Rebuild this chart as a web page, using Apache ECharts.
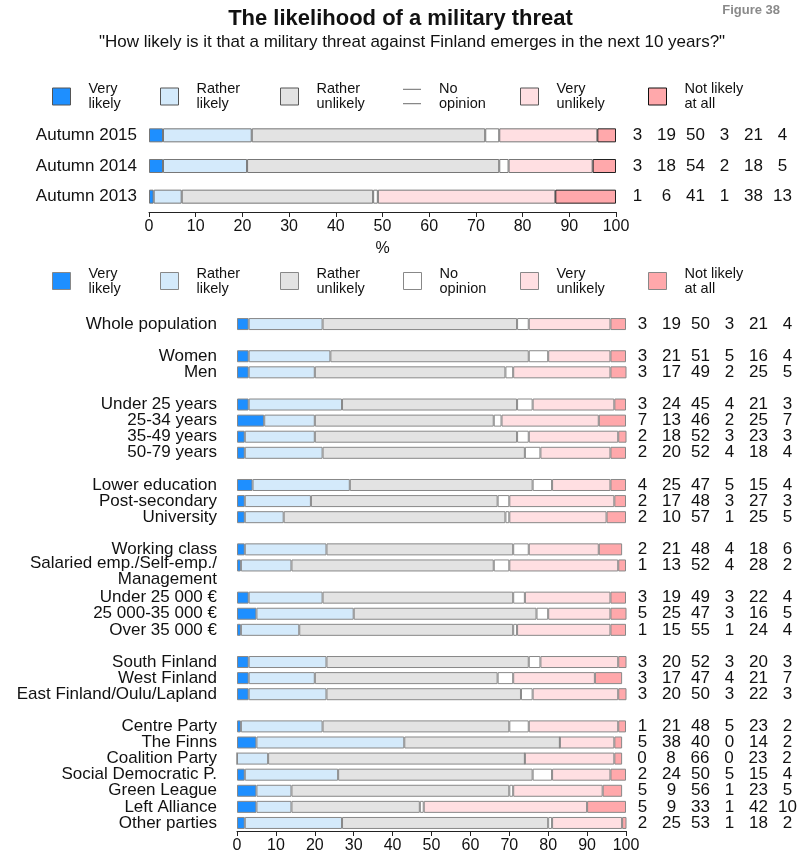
<!DOCTYPE html>
<html>
<head>
<meta charset="utf-8">
<script src="https://cdn.jsdelivr.net/npm/echarts@6/dist/echarts.min.js"></script>
<style>html,body{margin:0;padding:0;background:#fff;}#chart{width:801px;height:854px;}</style>
</head>
<body>
<div id="chart"></div>
<script>
// ---------- DATA ----------
const seriesNames = ['Very likely', 'Rather likely', 'Rather unlikely', 'No opinion', 'Very unlikely', 'Not likely at all'];
const legendLabels = ['Very\nlikely', 'Rather\nlikely', 'Rather\nunlikely', 'No\nopinion', 'Very\nunlikely', 'Not likely\nat all'];
const xTicks = [0, 10, 20, 30, 40, 50, 60, 70, 80, 90, 100];

const topCategories = ['Autumn 2015', 'Autumn 2014', 'Autumn 2013'];
const topVeryLikely      = [3, 3, 1];
const topRatherLikely    = [19, 18, 6];
const topRatherUnlikely  = [50, 54, 41];
const topNoOpinion       = [3, 2, 1];
const topVeryUnlikely    = [21, 18, 38];
const topNotLikely       = [4, 5, 13];

const bottomCategories = [
  'Whole population',
  'Women', 'Men',
  'Under 25 years', '25-34 years', '35-49 years', '50-79 years',
  'Lower education', 'Post-secondary', 'University',
  'Working class', 'Salaried emp./Self-emp./\nManagement',
  'Under 25 000 €', '25 000-35 000 €', 'Over 35 000 €',
  'South Finland', 'West Finland', 'East Finland/Oulu/Lapland',
  'Centre Party', 'The Finns', 'Coalition Party', 'Social Democratic P.', 'Green League', 'Left Alliance', 'Other parties'
];
const groupSizes = [1, 2, 4, 3, 2, 3, 3, 7];
const veryLikely     = [3, 3, 3, 3, 7, 2, 2, 4, 2, 2, 2, 1, 3, 5, 1, 3, 3, 3, 1, 5, 0, 2, 5, 5, 2];
const ratherLikely   = [19, 21, 17, 24, 13, 18, 20, 25, 17, 10, 21, 13, 19, 25, 15, 20, 17, 20, 21, 38, 8, 24, 9, 9, 25];
const ratherUnlikely = [50, 51, 49, 45, 46, 52, 52, 47, 48, 57, 48, 52, 49, 47, 55, 52, 47, 50, 48, 40, 66, 50, 56, 33, 53];
const noOpinion      = [3, 5, 2, 4, 2, 3, 4, 5, 3, 1, 4, 4, 3, 3, 1, 3, 4, 3, 5, 0, 0, 5, 1, 1, 1];
const veryUnlikely   = [21, 16, 25, 21, 25, 23, 18, 15, 27, 25, 18, 28, 22, 16, 24, 20, 21, 22, 23, 14, 23, 15, 23, 42, 18];
const notLikely      = [4, 4, 5, 3, 7, 3, 4, 4, 3, 5, 6, 2, 4, 5, 4, 3, 7, 3, 2, 2, 2, 4, 5, 10, 2];

// ---------- BUILD ----------
const FONT = '"Liberation Sans", Arial, Helvetica, sans-serif';
const colors = ['#1E8FFF', '#D4EAFB', '#E3E3E3', '#FFFFFF', '#FFDFE2', '#FFA8AB'];
const topValues = [topVeryLikely, topRatherLikely, topRatherUnlikely, topNoOpinion, topVeryUnlikely, topNotLikely];
const bottomValues = [veryLikely, ratherLikely, ratherUnlikely, noOpinion, veryUnlikely, notLikely];

// bottom axis with spacer rows between groups
const axisRows = [];
const rowSource = [];
let k = 0, spacer = 0;
groupSizes.forEach((n, g) => {
  for (let i = 0; i < n; i++) {
    axisRows.push(bottomCategories[k]);
    rowSource.push(k);
    k++;
  }
  if (g < groupSizes.length - 1) {
    spacer++;
    axisRows.push(' '.repeat(spacer));
    rowSource.push(-1);
  }
});

const richNums = { c: { width: 29, align: 'center', fontSize: 17, color: '#111', fontFamily: FONT } };

const series = [];
seriesNames.forEach((name, i) => {
  const s = {
    type: 'bar', name: name, stack: 'top', xAxisIndex: 0, yAxisIndex: 0,
    barWidth: 14, data: topValues[i].slice(),
    itemStyle: { color: colors[i], borderColor: i === 5 ? '#222' : '#777', borderWidth: 1 },
    emphasis: { disabled: true }, animation: false
  };
  if (i === 0) {
    s.label = {
      show: true, position: [474, '50%'], align: 'left', verticalAlign: 'middle',
      formatter: p => topValues.map(a => '{c|' + a[p.dataIndex] + '}').join(''),
      rich: richNums
    };
  }
  series.push(s);
});
seriesNames.forEach((name, i) => {
  const s = {
    type: 'bar', name: name, stack: 'bottom', xAxisIndex: 1, yAxisIndex: 1,
    barWidth: 12,
    data: rowSource.map(r => r < 0 ? '-' : bottomValues[i][r]),
    itemStyle: { color: colors[i], borderColor: '#888', borderWidth: 1 },
    emphasis: { disabled: true }, animation: false
  };
  if (i === 0) {
    s.label = {
      show: true, position: [391, '50%'], align: 'left', verticalAlign: 'middle',
      formatter: p => { const r = rowSource[p.dataIndex]; return r < 0 ? '' : bottomValues.map(a => '{c|' + a[r] + '}').join(''); },
      rich: richNums
    };
  }
  series.push(s);
});

// legends: one component per item so each sits where the reference has it
const legendX = [52, 160, 280, 403, 520, 648];
const legends = [];
function makeLegend(i, top, borderCol, topStyle) {
  const item = { name: seriesNames[i], icon: 'rect', itemStyle: { color: colors[i], borderColor: borderCol, borderWidth: 1 } };
  if (topStyle && i === 3) {
    item.icon = 'path://M0,0H20V1.2H0Z M0,15.8H20V17H0Z';
    item.itemStyle = { color: '#888', borderWidth: 0 };
  }
  if (topStyle && i === 5) item.itemStyle.borderColor = '#111';
  return {
    data: [item], left: legendX[i], top: top, padding: 0, selectedMode: false,
    itemWidth: 18, itemHeight: 17,
    formatter: () => legendLabels[i],
    textStyle: { fontSize: 14.5, lineHeight: 15, color: '#111', fontFamily: FONT, padding: [0, 0, 0, 13] }
  };
}
for (let i = 0; i < 6; i++) legends.push(makeLegend(i, 81.5, '#555', true));
for (let i = 0; i < 6; i++) legends.push(makeLegend(i, 266, '#888', false));

const axisCommon = {
  type: 'value', min: xTicks[0], max: xTicks[xTicks.length - 1], interval: xTicks[1] - xTicks[0],
  splitLine: { show: false },
  axisLine: { show: true, lineStyle: { color: '#222', width: 1 } },
  axisTick: { show: true, length: 5, lineStyle: { color: '#222' } },
  axisLabel: { fontSize: 16, color: '#111', margin: 7, fontFamily: FONT }
};

const catLabelRich = {
  sp: { fontSize: 17, lineHeight: 11, fontFamily: FONT, color: '#111' },
  t: { fontSize: 17, lineHeight: 16, fontFamily: FONT, color: '#111' }
};

const option = {
  animation: false,
  textStyle: { fontFamily: FONT },
  title: [
    { text: 'The likelihood of a military threat', left: 'center', top: 8, padding: 0,
      textStyle: { fontSize: 22, fontWeight: 'bold', color: '#111', fontFamily: FONT } },
    { text: '"How likely is it that a military threat against Finland emerges in the next 10 years?"',
      left: 412, textAlign: 'center', top: 34, padding: 0,
      textStyle: { fontSize: 17, fontWeight: 'normal', color: '#111', fontFamily: FONT } },
    { text: 'Figure 38', right: 21, top: 4, padding: 0,
      textStyle: { fontSize: 13, fontWeight: 'bold', color: '#8a8a8a', fontFamily: FONT } }
  ],
  legend: legends,
  grid: [
    { left: 149, width: 467, top: 120, height: 92 },
    { left: 237, width: 389, top: 316, height: 515 }
  ],
  xAxis: [
    Object.assign({}, axisCommon, { gridIndex: 0, name: '%', nameLocation: 'middle', nameGap: 29,
      nameTextStyle: { fontSize: 16, color: '#111', fontFamily: FONT } }),
    Object.assign({}, axisCommon, { gridIndex: 1 })
  ],
  yAxis: [
    { type: 'category', gridIndex: 0, inverse: true, data: topCategories,
      axisLine: { show: false }, axisTick: { show: false },
      axisLabel: { fontSize: 17, color: '#111', margin: 12, fontFamily: FONT } },
    { type: 'category', gridIndex: 1, inverse: true, data: axisRows,
      axisLine: { show: false }, axisTick: { show: false },
      axisLabel: {
        fontSize: 17, color: '#111', margin: 20, lineHeight: 16, interval: 0, fontFamily: FONT,
        formatter: v => v.indexOf('\n') >= 0
          ? '{sp| }\n' + v.split('\n').map(s => '{t|' + s + '}').join('\n')
          : v,
        rich: catLabelRich
      } }
  ],
  series: series
};

const chart = echarts.init(document.getElementById('chart'), null, { renderer: 'canvas' });
chart.setOption(option);
</script>
</body>
</html>
